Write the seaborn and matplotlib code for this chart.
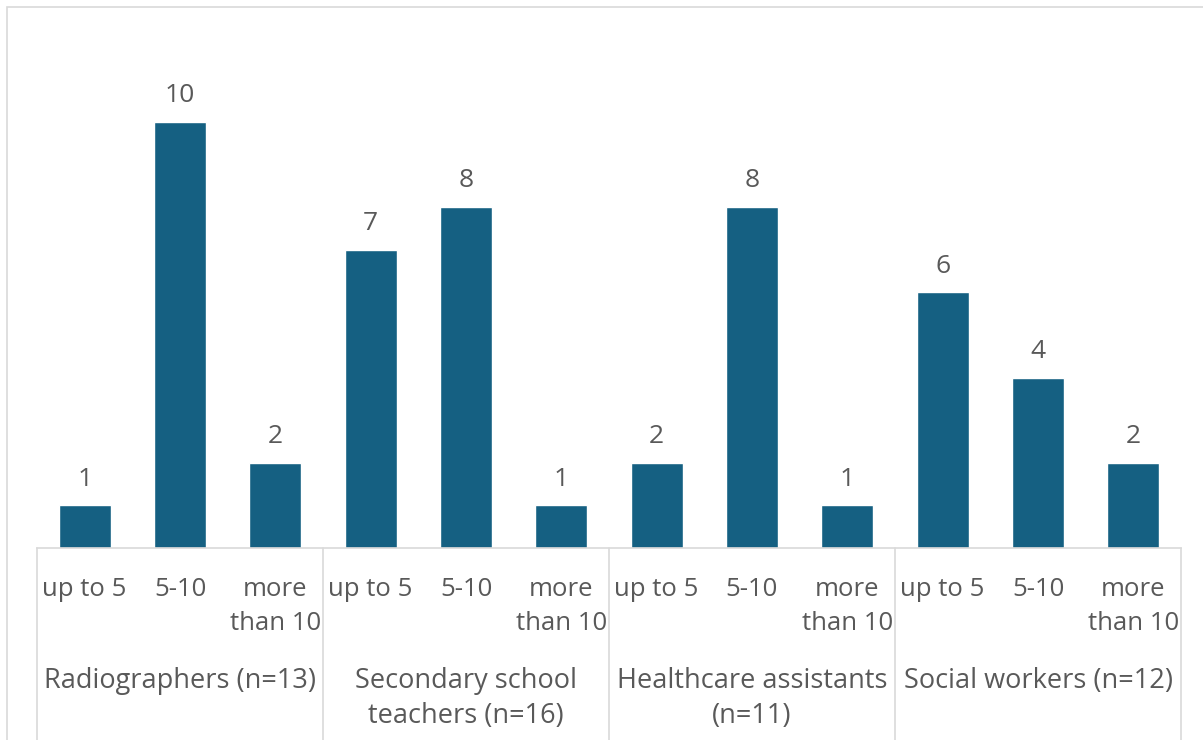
import matplotlib
matplotlib.use("Agg")
import matplotlib.pyplot as plt
import matplotlib.transforms as mtransforms
from matplotlib.patches import Rectangle
from matplotlib.lines import Line2D
import seaborn as sns
import pandas as pd

groups = ["Radiographers (n=13)", "Secondary school\nteachers (n=16)",
          "Healthcare assistants\n(n=11)", "Social workers (n=12)"]
bands = ["up to 5", "5-10", "more\nthan 10"]
radiographers = [1, 10, 2]
teachers = [7, 8, 1]
assistants = [2, 8, 1]
social = [6, 4, 2]

BAR = "#156082"
TXT = "#595959"
GRID = "#D9D9D9"

rows = []
for g, vals in zip(groups, [radiographers, teachers, assistants, social]):
    for b, v in zip(bands, vals):
        rows.append({"slot": f"{g}|{b}", "band": b, "group": g, "count": v})
df = pd.DataFrame(rows)

sns.set_style("white")
plt.rcParams["font.family"] = ["Open Sans", "DejaVu Sans"]

fig = plt.figure(figsize=(12.03, 7.40), dpi=100)
W, H = 1203, 740
ax = fig.add_axes([37 / W, 1 - 548 / H, (1181 - 37) / W, (548 - 36.8) / H])

sns.barplot(data=df, x="slot", y="count", color=BAR, width=0.545,
            saturation=1, ax=ax, order=list(df["slot"]))
ax.set_ylim(0, 12)
ax.set_xlim(-0.5, len(df) - 0.5)
for c in ax.containers:
    ax.bar_label(c, padding=10, fontsize=19, color=TXT)

ax.set_xticks(range(len(df)))
ax.set_xticklabels(df["band"], fontsize=18.5, color=TXT, linespacing=1.45)
ax.tick_params(axis="x", length=0, pad=21)
ax.set_yticks([])
ax.set_xlabel("")
ax.set_ylabel("")
for s in ["top", "right", "left"]:
    ax.spines[s].set_visible(False)
ax.spines["bottom"].set_color(GRID)
ax.spines["bottom"].set_linewidth(1.2)

trans = mtransforms.blended_transform_factory(ax.transData, fig.transFigure)
y_axis = 1 - 548 / H
for k in range(len(groups) + 1):
    xs = 3 * k - 0.5
    fig.add_artist(Line2D([xs, xs], [-0.01, y_axis], transform=trans,
                          color=GRID, lw=1.2))
for k, g in enumerate(groups):
    fig.text(3 * k + 1, 1 - 667 / H, g, transform=trans, ha="center",
             va="top", fontsize=19.5, color=TXT, linespacing=1.35)

fig.add_artist(Rectangle((7 / W, -0.1), 1.1, 1 - 7 / H + 0.1,
                         transform=fig.transFigure, fill=False,
                         edgecolor=GRID, lw=1.2))

plt.savefig("out.png", dpi=100)
